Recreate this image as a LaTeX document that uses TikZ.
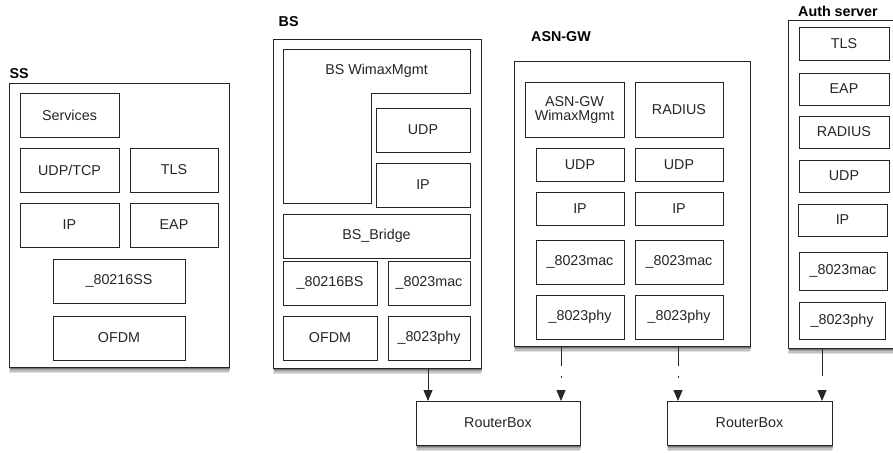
\documentclass[tikz,border=0pt]{standalone}
\usepackage{fontspec}
\setmainfont{Liberation Sans}
\usetikzlibrary{shadows,arrows.meta,calc}
\newcommand\mkbox[7][ib]{\node[#1, minimum width={#5pt-#3pt}, minimum height={#6pt-#4pt}] (#2) at ({(#3+#5)/2},{(#4+#6)/2}) {#7};}
\tikzset{
  ib/.style={draw=black!85, line width=0.8pt, inner sep=0pt, outer sep=0pt, align=center, text=black!85, font=\fontsize{14.3}{16}\selectfont},
  cont/.style={ib, fill=white,
    general shadow={fill=black, opacity=.12, shadow xshift=0.3pt, shadow yshift=-6pt, shadow scale=1.0},
    general shadow={fill=black, opacity=.14, shadow xshift=0.5pt, shadow yshift=-4.5pt},
    general shadow={fill=black, opacity=.18, shadow xshift=0.8pt, shadow yshift=-3pt},
    general shadow={fill=black, opacity=.25, shadow xshift=1pt, shadow yshift=-1.5pt}},
  lbl/.style={inner sep=0pt, anchor=west, text=black, font=\fontsize{14.3}{16}\selectfont\bfseries},
  arr/.style={draw=black!85, line width=0.8pt, -{Triangle[length=11pt,width=9pt]}},
}
\begin{document}
\begin{tikzpicture}[x=1pt,y=-1pt]
\useasboundingbox (0,0) rectangle (893,452);
\clip (0,0) rectangle (893,452);
% containers
\mkbox[cont]{ss}{9}{83}{229}{367}{}
\mkbox[cont]{bs}{273}{39}{481}{368}{}
\mkbox[cont]{asn}{514}{61}{750}{346}{}
\mkbox[cont]{auth}{788}{20}{910}{348}{}
% labels
\node[lbl] (sslbl) at (9.5,74) {SS};
\node[lbl] (bslbl) at (278.5,22) {BS};
\node[lbl] (asnlbl) at (531,37) {ASN-GW};
\node[lbl] (authlbl) at (798,11) {Auth server};
% SS
\mkbox{ssserv}{20}{93}{119}{137}{Services}
\mkbox{ssudp}{20}{148}{119}{192}{UDP/TCP}
\mkbox{sstls}{130}{148}{218}{192}{TLS}
\mkbox{ssip}{20}{203}{119}{247}{IP}
\mkbox{sseap}{130}{203}{218}{247}{EAP}
\mkbox{ssmac}{53}{259}{185}{303}{\_80216SS}
\mkbox{ssofdm}{53}{316}{185}{360}{OFDM}
% BS
\draw[draw=black!85, line width=0.8pt] (283,49) -- (470,49) -- (470,93) -- (371,93) -- (371,203) -- (283,203) -- cycle;
\node[ib, draw=none] (bswm) at (376.5,71) {BS WimaxMgmt};
\mkbox{bsudp}{376}{108}{470}{152}{UDP}
\mkbox{bsip}{376}{163}{470}{207}{IP}
\mkbox{bsbr}{283}{214}{470}{258}{BS\_Bridge}
\mkbox{bsmac}{283}{261}{377}{305}{\_80216BS}
\mkbox{bsemac}{388}{261}{470}{305}{\_8023mac}
\mkbox{bsofdm}{283}{316}{377}{360}{OFDM}
\mkbox{bsephy}{388}{316}{470}{360}{\_8023phy}
% ASN-GW
\mkbox{asnwm}{525}{82}{624}{137}{ASN-GW\\[-2pt]WimaxMgmt}
\mkbox{asnrad}{635}{82}{723}{137}{RADIUS}
\mkbox{asnudpa}{536}{148}{624}{181}{UDP}
\mkbox{asnudpb}{635}{148}{723}{181}{UDP}
\mkbox{asnipa}{536}{192}{624}{225}{IP}
\mkbox{asnipb}{635}{192}{723}{225}{IP}
\mkbox{asnmaca}{536}{240}{624}{284}{\_8023mac}
\mkbox{asnmacb}{635}{240}{723}{284}{\_8023mac}
\mkbox{asnphya}{536}{295}{624}{339}{\_8023phy}
\mkbox{asnphyb}{635}{295}{723}{339}{\_8023phy}
% Auth server
\mkbox{autls}{799}{27}{889}{60}{TLS}
\mkbox{aueap}{799}{73}{889}{105}{EAP}
\mkbox{aurad}{799}{116}{889}{148}{RADIUS}
\mkbox{auudp}{799}{160}{889}{192}{UDP}
\mkbox{auip}{798}{204}{887}{236}{IP}
\mkbox{aumac}{799}{252}{887}{290}{\_8023mac}
\mkbox{auphy}{799}{302}{885}{339}{\_8023phy}
% routers
\mkbox[cont]{rta}{416}{401}{580}{445}{RouterBox}
\mkbox[cont]{rtb}{667}{401}{832}{445}{RouterBox}
% connectors
\draw[arr] ([xshift=12pt]rta.north west |- bs.south) -- ([xshift=12pt]rta.north west);
\draw[arr, dash pattern=on 20pt off 10pt on 1.5pt off 40pt] ([xshift=-19pt]rta.north east |- asn.south) -- ([xshift=-19pt]rta.north east);
\draw[arr, dash pattern=on 20pt off 10pt on 1.5pt off 40pt] ([xshift=11pt]rtb.north west |- asn.south) -- ([xshift=11pt]rtb.north west);
\draw[arr, dash pattern=on 28pt off 30pt] ([xshift=-10pt]rtb.north east |- auth.south) -- ([xshift=-10pt]rtb.north east);
\end{tikzpicture}
\end{document}
